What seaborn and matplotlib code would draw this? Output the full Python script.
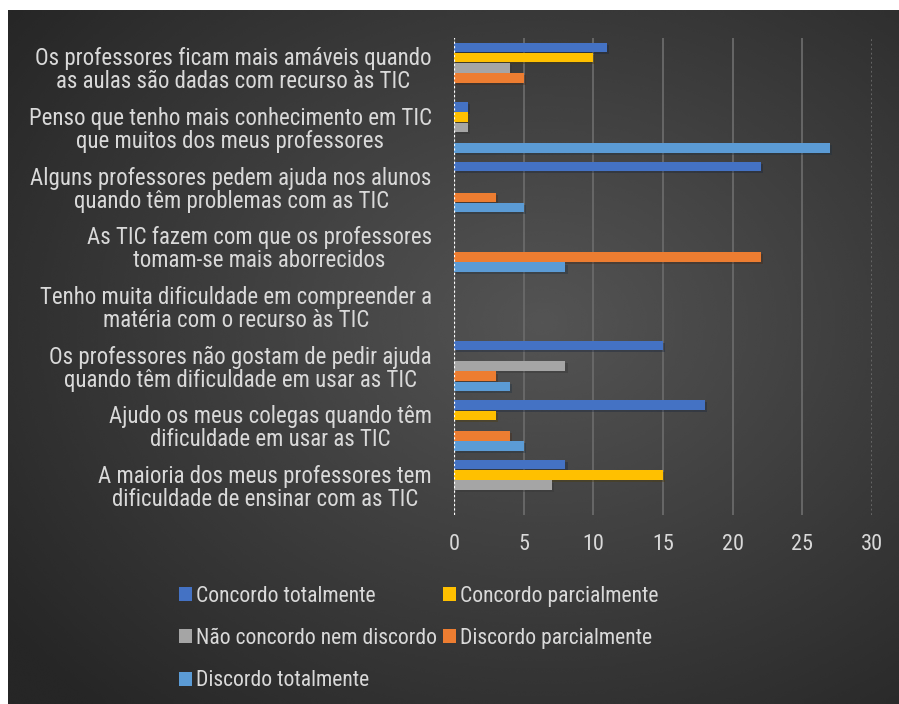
import numpy as np
import pandas as pd
import matplotlib
matplotlib.use("Agg")
import matplotlib.pyplot as plt
import matplotlib.patheffects as pe
from matplotlib.patches import Patch
import seaborn as sns

# perguntas, de cima para baixo
perguntas = [
    "Os professores ficam mais amáveis quando\nas aulas são dadas com recurso às TIC",
    "Penso que tenho mais conhecimento em TIC\nque muitos dos meus professores",
    "Alguns professores pedem ajuda nos alunos\nquando têm problemas com as TIC",
    "As TIC fazem com que os professores\ntomam-se mais aborrecidos",
    "Tenho muita dificuldade em compreender a\nmatéria com o recurso às TIC",
    "Os professores não gostam de pedir ajuda\nquando têm dificuldade em usar as TIC",
    "Ajudo os meus colegas quando têm\ndificuldade em usar as TIC",
    "A maioria dos meus professores tem\ndificuldade de ensinar com as TIC",
]
respostas = ["Concordo totalmente", "Concordo parcialmente",
             "Não concordo nem discordo", "Discordo parcialmente",
             "Discordo totalmente"]
concordo_totalmente = [11, 1, 22, 0, 0, 15, 18, 8]
concordo_parcialmente = [10, 1, 0, 0, 0, 0, 3, 15]
nao_concordo = [4, 1, 0, 0, 0, 8, 0, 7]
discordo_parcialmente = [5, 0, 3, 22, 0, 3, 4, 0]
discordo_totalmente = [0, 27, 5, 8, 0, 4, 5, 0]
cores = ["#4472C4", "#FFC000", "#A5A5A5", "#ED7D31", "#5B9BD5"]

valores = [concordo_totalmente, concordo_parcialmente, nao_concordo,
           discordo_parcialmente, discordo_totalmente]
df = pd.DataFrame({
    "pergunta": perguntas * len(respostas),
    "resposta": np.repeat(respostas, len(perguntas)),
    "valor": np.concatenate(valores),
})

sns.set_theme(style="white")
plt.rcParams["font.family"] = ["Roboto Condensed", "PT Sans Narrow",
                               "Archivo Narrow", "DejaVu Sans"]
texto = "#d9d9d9"

fig = plt.figure(figsize=(8.99, 7.04), dpi=100)
fig.patch.set_facecolor("white")

# fundo com gradiente radial
bg = fig.add_axes([8 / 899, 0, 891 / 899, 694 / 704], zorder=-1)
yy, xx = np.mgrid[0:1:300j, 0:1:380j]
r = np.sqrt(((xx - 0.6) / 0.75) ** 2 + ((yy - 0.45) / 0.75) ** 2)
g = np.clip(1 - r, 0, 1)
bg.imshow(0.15 + 0.18 * g, cmap="gray", vmin=0, vmax=1, aspect="auto",
          extent=[0, 1, 1, 0], interpolation="bicubic")
bg.set_axis_off()

ax = fig.add_axes([454 / 899, 1 - 515 / 704, 418 / 899, 477 / 704])
ax.patch.set_alpha(0)
sns.barplot(data=df, x="valor", y="pergunta", hue="resposta",
            hue_order=respostas, palette=cores, orient="h",
            width=0.86, gap=0.08, saturation=1, ax=ax, legend=False,
            linewidth=0, zorder=3)
for bar in ax.patches:
    if bar.get_width() > 0:
        bar.set_path_effects([pe.SimplePatchShadow(offset=(1.5, -1.5), alpha=0.35),
                              pe.Normal()])

ax.set_xlim(0, 30)
ax.set_xticks(range(0, 31, 5))
ax.grid(axis="x", color="#6a6a6a", lw=1.3, zorder=0)
ax.get_xgridlines()[-1].set_linestyle((0, (1, 1.5)))
ax.axvline(0, color="white", lw=1.6, ls=(0, (1, 1)), zorder=4)
for s in ax.spines.values():
    s.set_visible(False)
ax.set_xlabel("")
ax.set_ylabel("")
ax.tick_params(axis="x", length=0, pad=14, labelsize=16, labelcolor=texto)
ax.tick_params(axis="y", length=0, pad=16, labelsize=16.5, labelcolor=texto)
for t in ax.get_yticklabels():
    t.set_multialignment("center")
    t.set_linespacing(1.0)

handles = [Patch(facecolor=c, edgecolor="none", label=l) for c, l in zip(cores, respostas)]
ordem = [0, 2, 4, 1, 3]
fig.legend([handles[i] for i in ordem], [respostas[i] for i in ordem],
           ncol=2, loc="upper left", bbox_to_anchor=(168 / 899, 1 - 575 / 704),
           frameon=False, fontsize=15.6, labelcolor=texto,
           handlelength=0.62, handleheight=0.62, handletextpad=0.15,
           columnspacing=0.3, labelspacing=0.98, borderpad=0)

fig.savefig("out.png", dpi=100)
